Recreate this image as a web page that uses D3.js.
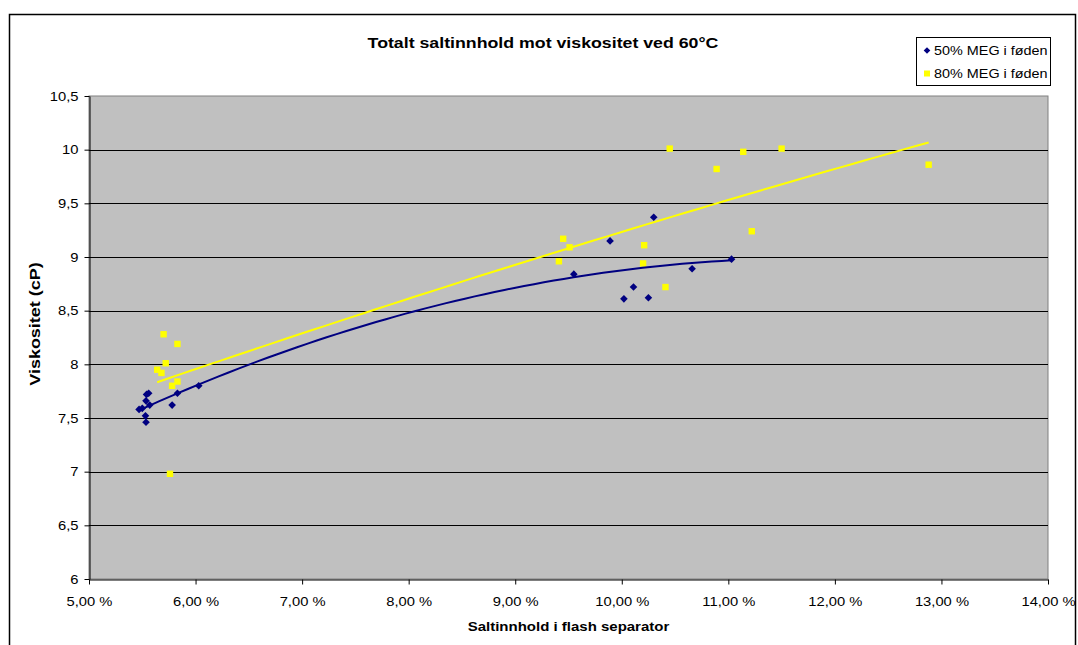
<!DOCTYPE html>
<html>
<head>
<meta charset="utf-8">
<script src="https://cdn.jsdelivr.net/npm/d3@7"></script>
<style>
  body { margin: 0; background: #fff; }
  svg { display: block; font-family: "Liberation Sans", Arial, sans-serif; }
</style>
</head>
<body>
<svg width="1078" height="645"></svg>
<script>
// data
var blueX = [5.47, 5.50, 5.535, 5.54, 5.56, 5.57, 5.53, 5.535, 5.78, 5.83, 6.03, 9.55, 9.89, 10.02, 10.11, 10.25, 10.30, 10.66, 11.03];
var blueY = [7.58, 7.59, 7.66, 7.72, 7.73, 7.62, 7.52, 7.46, 7.62, 7.73, 7.80, 8.84, 9.15, 8.61, 8.72, 8.62, 9.37, 8.89, 8.98];

var yellowX = [5.64, 5.68, 5.70, 5.72, 5.76, 5.78, 5.83, 5.83, 9.41, 9.45, 9.51, 10.20, 10.21, 10.41, 10.45, 10.89, 11.14, 11.22, 11.50, 12.88];
var yellowY = [7.95, 7.92, 8.28, 8.01, 6.98, 7.80, 8.19, 7.84, 8.96, 9.17, 9.09, 8.94, 9.11, 8.72, 10.01, 9.82, 9.98, 9.24, 10.01, 9.86];

var seriesNames = ["50% MEG i føden", "80% MEG i føden"];

var xTicks = [5, 6, 7, 8, 9, 10, 11, 12, 13, 14];
var xTickLabels = ["5,00 %", "6,00 %", "7,00 %", "8,00 %", "9,00 %", "10,00 %", "11,00 %", "12,00 %", "13,00 %", "14,00 %"];
var yTicks = [6, 6.5, 7, 7.5, 8, 8.5, 9, 9.5, 10, 10.5];
var yTickLabels = ["6", "6,5", "7", "7,5", "8", "8,5", "9", "9,5", "10", "10,5"];

var svg = d3.select("svg");

// plot area
var plot = { left: 89, top: 96, right: 1048, bottom: 579 };
var sx = 1.2; // horizontal stretch of the text in the picture

var x = d3.scaleLinear().domain([5, 14]).range([plot.left, plot.right]);
var y = d3.scaleLinear().domain([6, 10.5]).range([plot.bottom, plot.top]);

// outer chart border
svg.append("rect")
    .attr("x", 9.5).attr("y", 14.5)
    .attr("width", 1066).attr("height", 700)
    .attr("fill", "#fff")
    .attr("stroke", "#000")
    .attr("stroke-width", 1.5);

// plot background
svg.append("rect")
    .attr("x", plot.left).attr("y", plot.top)
    .attr("width", plot.right - plot.left)
    .attr("height", plot.bottom - plot.top)
    .attr("fill", "#c0c0c0")
    .attr("stroke", "#808080");

// horizontal gridlines
svg.append("g").selectAll("line")
    .data(yTicks.slice(1, -1))
    .enter().append("line")
    .attr("x1", plot.left).attr("x2", plot.right)
    .attr("y1", function (d) { return Math.round(y(d)) + 0.5; })
    .attr("y2", function (d) { return Math.round(y(d)) + 0.5; })
    .attr("stroke", "#000");

// y axis
var yAxis = svg.append("g")
    .attr("transform", "translate(" + (plot.left + 0.5) + ",0)")
    .call(d3.axisLeft(y).tickValues(yTicks).tickSize(5).tickSizeOuter(0)
        .tickFormat(function (d, i) { return yTickLabels[i]; }));
yAxis.select(".domain").attr("stroke", "#000");
yAxis.selectAll(".tick line").attr("stroke", "#000");
yAxis.selectAll(".tick text")
    .attr("x", -11 / sx)
    .attr("dy", "0.33em")
    .attr("transform", "scale(" + sx + ",1)")
    .attr("font-size", 12.3)
    .attr("font-family", "Liberation Sans, Arial, sans-serif")
    .attr("fill", "#000");

// x axis
var xAxis = svg.append("g")
    .attr("transform", "translate(0," + (plot.bottom + 0.5) + ")")
    .call(d3.axisBottom(x).tickValues(xTicks).tickSize(5).tickSizeOuter(0)
        .tickFormat(function (d, i) { return xTickLabels[i]; }));
xAxis.select(".domain").attr("stroke", "#000");
xAxis.selectAll(".tick line").attr("stroke", "#000");
xAxis.selectAll(".tick text")
    .attr("y", 18)
    .attr("transform", "scale(" + sx + ",1)")
    .attr("font-size", 12.3)
    .attr("font-family", "Liberation Sans, Arial, sans-serif")
    .attr("fill", "#000");

// quadratic least squares, like the Excel trendline
function polyfit2(xs, ys) {
    var s = [0, 0, 0, 0, 0], t = [0, 0, 0];
    xs.forEach(function (xv, i) {
        for (var k = 0; k < 5; k++) s[k] += Math.pow(xv, k);
        for (var k2 = 0; k2 < 3; k2++) t[k2] += ys[i] * Math.pow(xv, k2);
    });
    var m = [
        [s[0], s[1], s[2], t[0]],
        [s[1], s[2], s[3], t[1]],
        [s[2], s[3], s[4], t[2]]
    ];
    for (var c = 0; c < 3; c++) {
        for (var r = c + 1; r < 3; r++) {
            var f = m[r][c] / m[c][c];
            for (var j = c; j < 4; j++) m[r][j] -= f * m[c][j];
        }
    }
    var b = [0, 0, 0];
    for (var r2 = 2; r2 >= 0; r2--) {
        var v = m[r2][3];
        for (var j2 = r2 + 1; j2 < 3; j2++) v -= m[r2][j2] * b[j2];
        b[r2] = v / m[r2][r2];
    }
    return function (xv) { return b[0] + b[1] * xv + b[2] * xv * xv; };
}

function trendline(xs, ys, color) {
    var fit = polyfit2(xs, ys);
    var lo = d3.min(xs), hi = d3.max(xs);
    var pts = d3.range(0, 61).map(function (i) {
        var xv = lo + (hi - lo) * i / 60;
        return [xv, fit(xv)];
    });
    svg.append("path")
        .datum(pts)
        .attr("fill", "none")
        .attr("stroke", color)
        .attr("stroke-width", 2)
        .attr("d", d3.line()
            .x(function (d) { return x(d[0]); })
            .y(function (d) { return y(d[1]); }));
}

var diamond = "M0,-3.8L3.8,0L0,3.8L-3.8,0Z";

// series 50%
svg.append("g").selectAll("path")
    .data(blueX)
    .enter().append("path")
    .attr("d", diamond)
    .attr("transform", function (d, i) { return "translate(" + x(d) + "," + y(blueY[i]) + ")"; })
    .attr("fill", "#000080");

// series 80%
svg.append("g").selectAll("rect")
    .data(yellowX)
    .enter().append("rect")
    .attr("x", function (d) { return x(d) - 3.2; })
    .attr("y", function (d, i) { return y(yellowY[i]) - 3.2; })
    .attr("width", 6.4).attr("height", 6.4)
    .attr("fill", "#ffff00");

trendline(blueX, blueY, "#000080");
trendline(yellowX, yellowY, "#ffff00");

// title
svg.append("text")
    .attr("transform", "translate(543,48) scale(" + sx + ",1)")
    .attr("text-anchor", "middle")
    .attr("font-size", 14.8)
    .attr("font-weight", "bold")
    .text("Totalt saltinnhold mot viskositet ved 60°C");

// axis titles
svg.append("text")
    .attr("transform", "translate(" + ((plot.left + plot.right) / 2) + ",631) scale(" + sx + ",1)")
    .attr("text-anchor", "middle")
    .attr("font-size", 12.5)
    .attr("font-weight", "bold")
    .text("Saltinnhold i flash separator");

svg.append("text")
    .attr("transform", "translate(40,324) rotate(-90) scale(" + sx + ",1)")
    .attr("text-anchor", "middle")
    .attr("font-size", 15)
    .attr("font-weight", "bold")
    .text("Viskositet (cP)");

// legend
var legend = svg.append("g");
legend.append("rect")
    .attr("x", 916.5).attr("y", 37.5)
    .attr("width", 134).attr("height", 48)
    .attr("fill", "#fff")
    .attr("stroke", "#000");

var legendRows = legend.selectAll("g.row")
    .data(seriesNames)
    .enter().append("g")
    .attr("class", "row")
    .attr("transform", function (d, i) { return "translate(927," + (50.5 + i * 23) + ")"; });

legendRows.filter(function (d, i) { return i === 0; })
    .append("path")
    .attr("d", "M0,-3.3L3.3,0L0,3.3L-3.3,0Z")
    .attr("fill", "#000080");
legendRows.filter(function (d, i) { return i === 1; })
    .append("rect")
    .attr("x", -3).attr("y", -3)
    .attr("width", 6).attr("height", 6)
    .attr("fill", "#ffff00");

legendRows.append("text")
    .attr("transform", "translate(7,4.5) scale(" + sx + ",1)")
    .attr("font-size", 12)
    .text(function (d) { return d; });
</script>
</body>
</html>
